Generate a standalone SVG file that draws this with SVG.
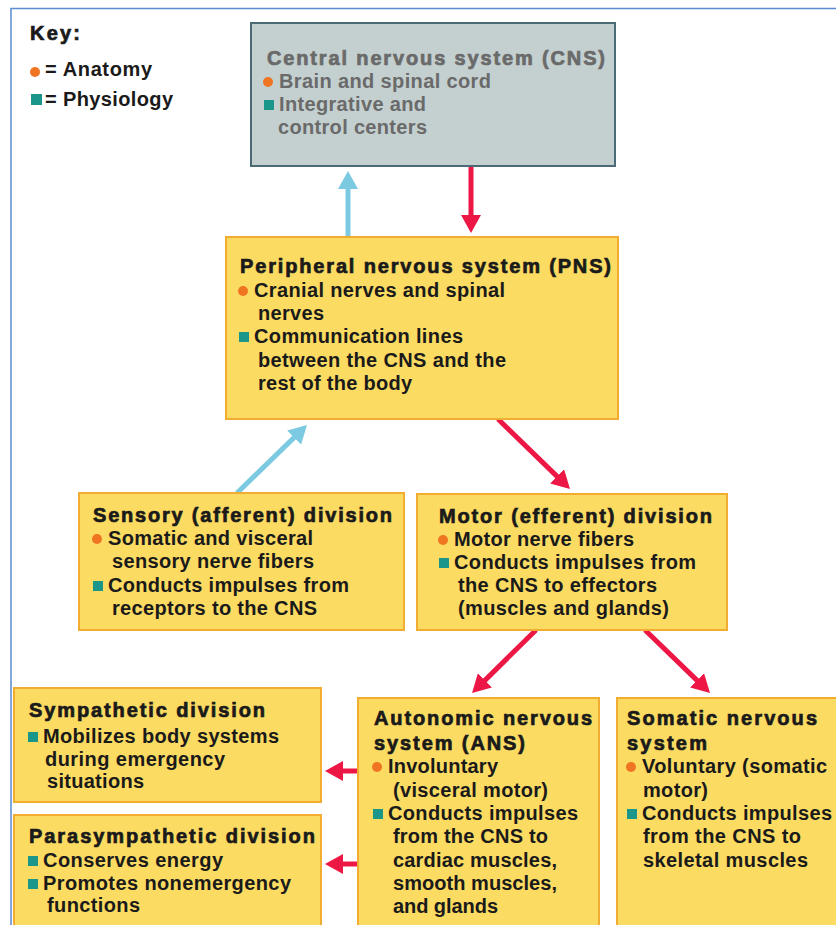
<svg xmlns="http://www.w3.org/2000/svg" width="836" height="925" viewBox="0 0 836 925">
<defs>
<style>
text{font-family:"Liberation Sans",Arial,sans-serif;font-size:20px;font-weight:bold;fill:#1a1a1a}
.t{stroke:#1a1a1a;stroke-width:0.7}
.g{fill:#6a6a6a}
.gt{fill:#6a6a6a;stroke:#6a6a6a;stroke-width:0.7}
.box{fill:#fcdb62;stroke:#f0ad32;stroke-width:2}
.cns{fill:#c4d0d0;stroke:#4c6a76;stroke-width:2}
.dot{fill:#f07522}
.sq{fill:#1b968a}
.red{stroke:#ec1744;stroke-width:5;fill:none}
.blue{stroke:#7ccae2;stroke-width:5;fill:none}
</style>
<marker id="hr" viewBox="0 0 18 20" markerWidth="18" markerHeight="20" markerUnits="userSpaceOnUse" refX="6" refY="10" orient="auto"><path d="M0,0 L18,10 L0,20 z" fill="#ec1744"/></marker>
<marker id="hb" viewBox="0 0 18 20" markerWidth="18" markerHeight="20" markerUnits="userSpaceOnUse" refX="6" refY="10" orient="auto"><path d="M0,0 L18,10 L0,20 z" fill="#7ccae2"/></marker>
</defs>
<rect width="836" height="925" fill="#ffffff"/>
<path d="M11,935 V8.5 H846" fill="none" stroke="#5a8bd0" stroke-width="1.5"/>

<g id="key">
<text class="t" x="30" y="40" textLength="50">Key:</text>
<circle class="dot" cx="35" cy="72" r="5"/>
<text x="45" y="76" textLength="107">= Anatomy</text>
<rect class="sq" x="31" y="94" width="11" height="11"/>
<text x="45" y="106" textLength="128">= Physiology</text>
</g>

<g id="connectors">
<line class="blue" x1="348" y1="237" x2="348" y2="183" marker-end="url(#hb)"/>
<line class="red" x1="471" y1="166" x2="471" y2="221" marker-end="url(#hr)"/>
<line class="blue" x1="237" y1="493" x2="298.4" y2="433.4" marker-end="url(#hb)"/>
<line class="red" x1="498" y1="419" x2="561.4" y2="480.6" marker-end="url(#hr)"/>
<line class="red" x1="536" y1="630" x2="480.6" y2="684.6" marker-end="url(#hr)"/>
<line class="red" x1="645" y1="630" x2="701.4" y2="684.6" marker-end="url(#hr)"/>
<line class="red" x1="358" y1="771" x2="337" y2="771" marker-end="url(#hr)"/>
<line class="red" x1="358" y1="864" x2="337" y2="864" marker-end="url(#hr)"/>
</g>

<g id="cns">
<rect class="cns" x="251" y="23" width="364" height="143"/>
<text class="gt" x="267" y="65" textLength="338">Central nervous system (CNS)</text>
<circle class="dot" cx="268" cy="82" r="5"/>
<text class="g" x="279" y="88" textLength="212">Brain and spinal cord</text>
<rect class="sq" x="264" y="100" width="10" height="10"/>
<text class="g" x="279" y="111" textLength="147">Integrative and</text>
<text class="g" x="278" y="134" textLength="149">control centers</text>
</g>

<g id="pns">
<rect class="box" x="226" y="237" width="392" height="182"/>
<text class="t" x="240" y="273" textLength="371">Peripheral nervous system (PNS)</text>
<circle class="dot" cx="243" cy="291" r="5"/>
<text x="254" y="297" textLength="251">Cranial nerves and spinal</text>
<text x="258" y="320" textLength="66">nerves</text>
<rect class="sq" x="239" y="332" width="10" height="10"/>
<text x="254" y="343" textLength="209">Communication lines</text>
<text x="258" y="367" textLength="248">between the CNS and the</text>
<text x="258" y="390" textLength="154">rest of the body</text>
</g>

<g id="sensory">
<rect class="box" x="79" y="493" width="325" height="137"/>
<text class="t" x="93" y="522" textLength="299">Sensory (afferent) division</text>
<circle class="dot" cx="97" cy="539" r="5"/>
<text x="108" y="545" textLength="205">Somatic and visceral</text>
<text x="112" y="568" textLength="202">sensory nerve fibers</text>
<rect class="sq" x="93" y="581" width="10" height="10"/>
<text x="108" y="592" textLength="241">Conducts impulses from</text>
<text x="112" y="615" textLength="205">receptors to the CNS</text>
</g>

<g id="motor">
<rect class="box" x="417" y="494" width="310" height="136"/>
<text class="t" x="439" y="523" textLength="273">Motor (efferent) division</text>
<circle class="dot" cx="443" cy="540" r="5"/>
<text x="454" y="546" textLength="180">Motor nerve fibers</text>
<rect class="sq" x="439" y="558" width="10" height="10"/>
<text x="454" y="569" textLength="242">Conducts impulses from</text>
<text x="458" y="592" textLength="199">the CNS to effectors</text>
<text x="458" y="615" textLength="211">(muscles and glands)</text>
</g>

<g id="sympathetic">
<rect class="box" x="14" y="688" width="307" height="114"/>
<text class="t" x="29" y="717" textLength="236">Sympathetic division</text>
<rect class="sq" x="28" y="732" width="10" height="10"/>
<text x="43" y="743" textLength="236">Mobilizes body systems</text>
<text x="45" y="766" textLength="180">during emergency</text>
<text x="47" y="788" textLength="97">situations</text>
</g>

<g id="parasympathetic">
<rect class="box" x="14" y="815" width="307" height="125"/>
<text class="t" x="29" y="843" textLength="286">Parasympathetic division</text>
<rect class="sq" x="28" y="856" width="10" height="10"/>
<text x="43" y="867" textLength="180">Conserves energy</text>
<rect class="sq" x="28" y="879" width="10" height="10"/>
<text x="43" y="890" textLength="248">Promotes nonemergency</text>
<text x="47" y="912" textLength="93">functions</text>
</g>

<g id="ans">
<rect class="box" x="358" y="698" width="241" height="242"/>
<text class="t" x="374" y="725" textLength="218">Autonomic nervous</text>
<text class="t" x="374" y="750" textLength="151">system (ANS)</text>
<circle class="dot" cx="377" cy="767" r="5"/>
<text x="388" y="773" textLength="110">Involuntary</text>
<text x="393" y="797" textLength="155">(visceral motor)</text>
<rect class="sq" x="373" y="809" width="10" height="10"/>
<text x="388" y="820" textLength="190">Conducts impulses</text>
<text x="393" y="843" textLength="155">from the CNS to</text>
<text x="393" y="867" textLength="164">cardiac muscles,</text>
<text x="393" y="890" textLength="164">smooth muscles,</text>
<text x="393" y="913" textLength="105">and glands</text>
</g>

<g id="somatic">
<rect class="box" x="617" y="698" width="240" height="242"/>
<text class="t" x="627" y="725" textLength="190">Somatic nervous</text>
<text class="t" x="627" y="750" textLength="80">system</text>
<circle class="dot" cx="631" cy="767" r="5"/>
<text x="642" y="773" textLength="185">Voluntary (somatic</text>
<text x="643" y="797" textLength="65">motor)</text>
<rect class="sq" x="627" y="809" width="10" height="10"/>
<text x="642" y="820" textLength="190">Conducts impulses</text>
<text x="643" y="843" textLength="158">from the CNS to</text>
<text x="643" y="867" textLength="165">skeletal muscles</text>
</g>
</svg>
